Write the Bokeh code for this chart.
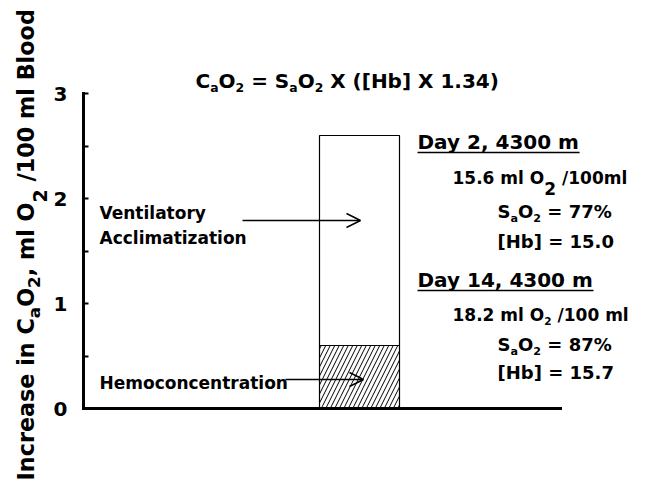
import math
from bokeh.plotting import figure
from bokeh.models import Range1d, FixedTicker, Label, Arrow, OpenHead, ColumnDataSource
from bokeh.embed import file_html
from bokeh.resources import INLINE

# ---------------- data ----------------
components = ["Hemoconcentration", "Ventilatory Acclimatization"]
increase = [0.6, 2.0]            # increase in CaO2, ml O2 / 100 ml blood
y_ticks = [0, 1, 2, 3]
y_minor_ticks = [0.5, 1.5, 2.5]
day_labels = ["Day 2, 4300 m", "Day 14, 4300 m"]
cao2_values = ["15.6", "18.2"]
cao2_units = [" /100ml", " /100 ml"]
sao2_values = ["77%", "87%"]
hb_values = ["15.0", "15.7"]

# ---------------- geometry (figure pixels) ----------------
W_FIG, H_FIG = 633, 480
AX_L, AX_R = 83, 560          # x-axis extent
PY0, PPU = 408, 105           # pixel of y=0, pixels per unit
BAR_CX, BAR_W = 359, 80       # bar centre / width in pixels
X0 = -BAR_CX / BAR_W
X1 = (W_FIG - BAR_CX) / BAR_W
Y0 = -(H_FIG - PY0) / PPU
Y1 = PY0 / PPU

FONT = "DejaVu Sans"

def dx(px):
    return X0 + px / W_FIG * (X1 - X0)

def dy(py):
    return Y1 - py / H_FIG * (Y1 - Y0)

# DejaVu Sans Bold advance widths (em)
WID = {' ': .348, '.': .380, ',': .380, '/': .365, '=': .838, '%': 1.002,
       '(': .457, ')': .457, '[': .457, ']': .457,
       'A': .774, 'B': .762, 'C': .734, 'D': .830, 'H': .837, 'I': .372,
       'O': .850, 'S': .720, 'V': .774, 'X': .774,
       'a': .675, 'b': .716, 'c': .593, 'd': .716, 'e': .678, 'i': .343,
       'l': .343, 'm': 1.042, 'n': .712, 'o': .687, 'r': .493, 's': .595,
       't': .478, 'y': .652, 'z': .569}
for d in "0123456789":
    WID[d] = .696

def tw(s):
    return sum(WID.get(c, .65) for c in s)

p = figure(width=W_FIG, height=H_FIG, output_backend="svg", toolbar_location=None,
           title=None, x_range=Range1d(X0, X1), y_range=Range1d(Y0, Y1),
           min_border=0)
p.outline_line_color = None
p.xgrid.visible = False
p.ygrid.visible = False
p.background_fill_color = "white"

# axes (fixed inside the full-canvas frame)
p.yaxis.fixed_location = dx(AX_L)
p.yaxis.bounds = (0, 3)
p.yaxis.ticker = FixedTicker(ticks=y_ticks, minor_ticks=y_minor_ticks)
p.yaxis.axis_line_width = 3
p.yaxis.axis_line_cap = "square"
p.yaxis.major_tick_in = 5
p.yaxis.major_tick_out = 0
p.yaxis.minor_tick_in = 5
p.yaxis.minor_tick_out = 0
p.yaxis.major_tick_line_width = 2
p.yaxis.minor_tick_line_width = 2
p.yaxis.major_label_text_font = FONT
p.yaxis.major_label_text_font_style = "bold"
p.yaxis.major_label_text_font_size = "20px"
p.yaxis.major_label_text_color = "black"
p.yaxis.major_label_standoff = 16

p.xaxis.fixed_location = 0
p.xaxis.bounds = (dx(AX_L), dx(AX_R))
p.xaxis.ticker = FixedTicker(ticks=[])
p.xaxis.axis_line_width = 3
p.xaxis.axis_line_cap = "square"
p.xaxis.major_tick_line_color = None
p.xaxis.minor_tick_line_color = None
p.xaxis.major_label_text_color = None

# stacked bar
bottoms = [0, increase[0]]
tops = [increase[0], increase[0] + increase[1]]
src = ColumnDataSource(dict(x=[0.0, 0.0], bottom=bottoms, top=tops,
                            hatch=["/", " "], name=components))
p.vbar(x="x", width=1.0, bottom="bottom", top="top", source=src,
       fill_color="white", line_color="black", line_width=1.2,
       hatch_pattern="hatch", hatch_color="black", hatch_scale=9, hatch_weight=1)

MID = 0.346   # em distance from baseline to middle of the em box

def rich(parts, x_px, y_px, size, angle=0.0):
    """parts: (text, scale, baseline shift in em of size); x_px/y_px = baseline start."""
    pos = 0.0
    for text, sc, sh in parts:
        fs = size * sc
        lead = len(text) - len(text.lstrip(" "))
        core = text.strip(" ")
        start = pos + lead * WID[" "] * fs
        if angle == 0:
            lx, ly = x_px + start, y_px + sh * size - MID * fs
        else:
            lx, ly = x_px + sh * size - MID * fs, y_px - start
        if core:
            p.add_layout(Label(x=dx(lx), y=dy(ly), text=core, angle=angle,
                               text_font=FONT, text_font_style="bold",
                               text_font_size=f"{fs:.2f}px", text_color="black",
                               text_align="left", text_baseline="middle"))
        pos += tw(text) * fs
    return pos

# title formula
rich([("C", 1, 0), ("a", .62, .22), ("O", 1, 0), ("2", .62, .22), (" = S", 1, 0),
      ("a", .62, .22), ("O", 1, 0), ("2", .62, .22), (" X ([Hb] X 1.34)", 1, 0)],
     195, 87, 20)

# y-axis label (rotated)
rich([("Increase in C", 1, 0), ("a", .75, .3), ("O", 1, 0), ("2", .75, .3),
      (", ml O", 1, 0), ("2", .85, .6), (" /100 ml Blood", 1, 0)],
     33, 480, 22.3, angle=math.pi / 2)

# component annotations
rich([("Ventilatory", 1, 0)], 99, 218, 17)
rich([("Acclimatization", 1, 0)], 99, 243, 17)
rich([(components[0], 1, 0)], 99, 388, 17)

p.add_layout(Arrow(end=OpenHead(size=14, line_width=1.5), line_width=1.5,
                   x_start=dx(242), y_start=dy(220), x_end=dx(360), y_end=dy(220)))
p.add_layout(Arrow(end=OpenHead(size=14, line_width=1.5), line_width=1.5,
                   x_start=dx(285), y_start=dy(379), x_end=dx(363), y_end=dy(379)))

# right-hand info blocks
heading_y = [148, 286]
line_y = [[183, 217, 247], [320, 350, 378]]
for i in range(2):
    hy = heading_y[i]
    w = rich([(day_labels[i], 1, 0)], 417, hy, 20)
    p.add_layout(Arrow(end=None, line_width=1.5,
                       x_start=dx(417), y_start=dy(hy + 4),
                       x_end=dx(417 + w), y_end=dy(hy + 4)))
    sub2 = (("2", 1.0, .65) if i == 0 else ("2", .62, .25))
    rich([(cao2_values[i] + " ml O", 1, 0), sub2, (cao2_units[i], 1, 0)],
         452, line_y[i][0], 17)
    rich([("S", 1, 0), ("a", .62, .25), ("O", 1, 0), ("2", .62, .25),
          (" = " + sao2_values[i], 1, 0)], 497, line_y[i][1], 18)
    rich([("[Hb] = " + hb_values[i], 1, 0)], 497, line_y[i][2], 18)

open("out.html", "w").write(file_html(p, INLINE))
